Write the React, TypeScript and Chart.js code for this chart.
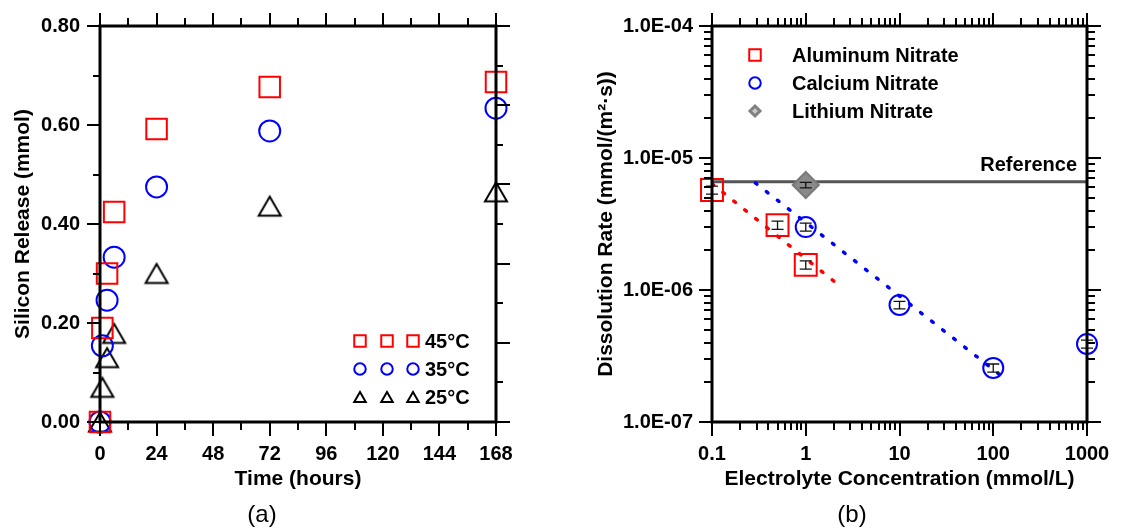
import React, { useEffect, useRef } from 'react';
import { Chart, registerables } from 'chart.js';

Chart.register(...registerables);

const FONT = '"Liberation Sans", Arial, Helvetica, sans-serif';
Chart.defaults.font.family = FONT;
Chart.defaults.color = '#000';

// ---------- Panel (a) data ----------
const timeHours = [0, 1, 3, 6, 24, 72, 168];
const release45C = [0, 0.19, 0.3, 0.424, 0.592, 0.677, 0.687];
const release35C = [0, 0.154, 0.246, 0.333, 0.475, 0.588, 0.634];
const release25C = [0, 0.07, 0.13, 0.179, 0.3, 0.436, 0.465];
const temperatureLabels = ['45°C', '35°C', '25°C'];
const timeMajorTicks = [0, 24, 48, 72, 96, 120, 144, 168];
const timeMinorTicks = [12, 36, 60, 84, 108, 132, 156];
const releaseMajorTicks = [0, 0.2, 0.4, 0.6, 0.8];
const releaseTickLabels = ['0.00', '0.20', '0.40', '0.60', '0.80'];
const releaseMinorTicks = [0.1, 0.3, 0.5, 0.7];
const releaseRightMajorTicks = [0, 0.16, 0.32, 0.48, 0.64, 0.8];
const releaseRightMinorTicks = [0.08, 0.24, 0.4, 0.56, 0.72];

// ---------- Panel (b) data ----------
const concAl = [0.1, 0.5, 1];
const rateAl = [5.73e-6, 3.1e-6, 1.55e-6];
const errAl = [0.4e-6, 0.22e-6, 0.11e-6];
const concCa = [1, 10, 100, 1000];
const rateCa = [3.0e-6, 7.7e-7, 2.57e-7, 3.9e-7];
const errCa = [0.21e-6, 0.05e-6, 0.018e-6, 0.027e-6];
const concLi = [1];
const rateLi = [6.24e-6];
const errLi = [0.3e-6];
const referenceRate = 6.6e-6;
const referenceConc = [0.1, 1000];
const fitAlConc = [0.1, 2.05];
const fitAlRate = [6.4e-6, 1.15e-6];
const fitCaConc = [0.29, 115];
const fitCaRate = [6.47e-6, 2.31e-7];
const saltLabels = ['Aluminum Nitrate', 'Calcium Nitrate', 'Lithium Nitrate'];
const concDecades = [0.1, 1, 10, 100, 1000];
const concTickLabels = ['0.1', '1', '10', '100', '1000'];
const rateDecades = [1e-7, 1e-6, 1e-5, 1e-4];
const rateTickLabels = ['1.0E-07', '1.0E-06', '1.0E-05', '1.0E-04'];
const minorMultipliers = [2, 3, 4, 5, 6, 7, 8, 9];

const concMinorTicks: number[] = [];
concDecades.slice(0, -1).forEach((d) => minorMultipliers.forEach((m) => concMinorTicks.push(d * m)));
const rateMinorTicks: number[] = [];
rateDecades.slice(0, -1).forEach((d) => minorMultipliers.forEach((m) => rateMinorTicks.push(d * m)));

type Shape = 'square' | 'circle' | 'triangle' | 'diamond';

function drawMarker(ctx: CanvasRenderingContext2D, shape: Shape, x: number, y: number, size: number, color: string, lw: number, fill?: string) {
  ctx.save();
  ctx.lineWidth = lw;
  ctx.strokeStyle = color;
  ctx.beginPath();
  const h = size / 2;
  if (shape === 'square') ctx.rect(x - h, y - h, size, size);
  else if (shape === 'circle') ctx.arc(x, y, h, 0, Math.PI * 2);
  else if (shape === 'triangle') {
    const ht = size * 0.86;
    ctx.moveTo(x, y - ht / 2);
    ctx.lineTo(x + h, y + ht / 2);
    ctx.lineTo(x - h, y + ht / 2);
    ctx.closePath();
  } else {
    ctx.moveTo(x, y - h);
    ctx.lineTo(x + h, y);
    ctx.lineTo(x, y + h);
    ctx.lineTo(x - h, y);
    ctx.closePath();
  }
  if (fill) {
    ctx.fillStyle = fill;
    ctx.fill();
  }
  ctx.stroke();
  ctx.restore();
}

function makeTriangleImage(size: number) {
  const c = document.createElement('canvas');
  c.width = size + 6;
  c.height = size + 6;
  const ctx = c.getContext('2d')!;
  drawMarker(ctx, 'triangle', c.width / 2, c.height / 2, size, '#000', 2);
  return c;
}

type TickSpec = { side: 'left' | 'right' | 'top' | 'bottom'; values: number[]; len: number };

function framePlugin(specs: TickSpec[]) {
  return {
    id: 'frameTicks',
    afterDatasetsDraw(chart: any) {
      const { ctx, chartArea: a, scales } = chart;
      ctx.save();
      ctx.strokeStyle = '#000';
      ctx.lineWidth = 2;
      for (const s of specs) {
        for (const v of s.values) {
          ctx.beginPath();
          if (s.side === 'left' || s.side === 'right') {
            const p = Math.round(scales.y.getPixelForValue(v));
            const x0 = s.side === 'left' ? a.left : a.right;
            const dir = s.side === 'left' ? -1 : 1;
            ctx.moveTo(x0, p);
            ctx.lineTo(x0 + dir * s.len, p);
          } else {
            const p = Math.round(scales.x.getPixelForValue(v));
            const y0 = s.side === 'top' ? a.top : a.bottom;
            const dir = s.side === 'top' ? -1 : 1;
            ctx.moveTo(p, y0);
            ctx.lineTo(p, y0 + dir * s.len);
          }
          ctx.stroke();
        }
      }
      ctx.lineWidth = 3;
      ctx.strokeRect(a.left, a.top, a.right - a.left, a.bottom - a.top);
      ctx.restore();
    },
  };
}

const tickFont = { family: FONT, size: 20, weight: 'bold' as const };
const titleFont = { family: FONT, size: 21, weight: 'bold' as const };
const hiddenGrid = (len: number) => ({ display: true, drawOnChartArea: false, drawTicks: true, tickLength: len, color: 'rgba(0,0,0,0)' });

function leftConfig(): any {
  const tri = makeTriangleImage(22);
  const pts = (ys: number[]) => timeHours.map((t, i) => ({ x: t, y: ys[i] }));
  const legendPlugin = {
    id: 'tempLegend',
    afterDraw(chart: any) {
      const { ctx, chartArea: a } = chart;
      const rows: { shape: Shape; color: string }[] = [
        { shape: 'square', color: '#ff0000' },
        { shape: 'circle', color: '#0000ff' },
        { shape: 'triangle', color: '#000000' },
      ];
      rows.forEach((r, i) => {
        const y = a.bottom - 81 + i * 28;
        [-136, -109, -83].forEach((dx) => drawMarker(ctx, r.shape, a.right + dx, y, 11.5, r.color, 2));
        ctx.save();
        ctx.font = `bold 20px ${FONT}`;
        ctx.fillStyle = '#000';
        ctx.textAlign = 'left';
        ctx.textBaseline = 'middle';
        ctx.fillText(temperatureLabels[i], a.right - 71, y + 1);
        ctx.restore();
      });
    },
  };
  return {
    type: 'scatter',
    data: {
      datasets: [
        { label: temperatureLabels[0], data: pts(release45C), pointStyle: 'rect', pointRadius: 14.5, borderColor: '#ff0000', backgroundColor: 'transparent', borderWidth: 2, clip: false },
        { label: temperatureLabels[1], data: pts(release35C), pointStyle: 'circle', pointRadius: 10.5, borderColor: '#0000ff', backgroundColor: 'transparent', borderWidth: 2, clip: false },
        { label: temperatureLabels[2], data: pts(release25C), pointStyle: tri, pointRadius: 12, borderColor: '#000', backgroundColor: 'transparent', borderWidth: 2, clip: false },
      ],
    },
    options: {
      animation: false,
      responsive: false,
      layout: { padding: { top: 26, right: 64, left: 0, bottom: 0 } },
      plugins: { legend: { display: false }, tooltip: { enabled: false } },
      scales: {
        x: {
          type: 'linear',
          position: 'bottom',
          min: 0,
          max: 168,
          afterBuildTicks: (s: any) => { s.ticks = timeMajorTicks.map((v) => ({ value: v })); },
          afterFit: (s: any) => { s.height = 110; },
          grid: hiddenGrid(19),
          border: { display: false },
          ticks: { font: tickFont, color: '#000', padding: 1, maxRotation: 0, autoSkip: false },
          title: { display: true, text: 'Time (hours)', font: titleFont, color: '#000', padding: { top: 0, bottom: 40 } },
        },
        y: {
          type: 'linear',
          position: 'left',
          min: 0,
          max: 0.8,
          afterBuildTicks: (s: any) => { s.ticks = releaseMajorTicks.map((v) => ({ value: v })); },
          afterFit: (s: any) => { s.width = 100; },
          grid: hiddenGrid(19),
          border: { display: false },
          ticks: { font: tickFont, color: '#000', padding: 1, autoSkip: false, callback: (_v: any, i: number) => releaseTickLabels[i] },
          title: { display: true, text: 'Silicon Release (mmol)', font: titleFont, color: '#000', padding: { top: 11, bottom: 0 } },
        },
      },
    },
    plugins: [
      framePlugin([
        { side: 'left', values: releaseMajorTicks, len: 13 },
        { side: 'left', values: releaseMinorTicks, len: 7 },
        { side: 'right', values: releaseRightMajorTicks, len: 14 },
        { side: 'right', values: releaseRightMinorTicks, len: 7 },
        { side: 'bottom', values: timeMajorTicks, len: 14 },
        { side: 'bottom', values: timeMinorTicks, len: 8 },
        { side: 'top', values: timeMajorTicks, len: 13 },
        { side: 'top', values: timeMinorTicks, len: 8 },
      ]),
      legendPlugin,
    ],
  };
}

function rightConfig(): any {
  const pts = (xs: number[], ys: number[]) => xs.map((x, i) => ({ x, y: ys[i] }));
  const errorPlugin = {
    id: 'errorBars',
    afterDatasetsDraw(chart: any) {
      const { ctx } = chart;
      const ys = chart.scales.y;
      ctx.save();
      ctx.strokeStyle = '#111';
      ctx.lineWidth = 1.3;
      chart.data.datasets.forEach((ds: any, di: number) => {
        if (!ds.errors) return;
        const meta = chart.getDatasetMeta(di);
        meta.data.forEach((el: any, i: number) => {
          const v = ds.data[i].y;
          const e = ds.errors[i];
          const y1 = ys.getPixelForValue(v + e);
          const y2 = ys.getPixelForValue(v - e);
          const x = el.x;
          ctx.beginPath();
          ctx.moveTo(x, y1);
          ctx.lineTo(x, y2);
          ctx.moveTo(x - 6, y1);
          ctx.lineTo(x + 6, y1);
          ctx.moveTo(x - 6, y2);
          ctx.lineTo(x + 6, y2);
          ctx.stroke();
        });
      });
      ctx.restore();
    },
  };
  const legendPlugin = {
    id: 'saltLegend',
    afterDraw(chart: any) {
      const { ctx, chartArea: a } = chart;
      const rows: { shape: Shape; color: string; fill?: string; lw: number }[] = [
        { shape: 'square', color: '#ff0000', lw: 2 },
        { shape: 'circle', color: '#0000ff', lw: 2 },
        { shape: 'diamond', color: '#808080', fill: '#c8c8c8', lw: 3 },
      ];
      rows.forEach((r, i) => {
        const y = a.top + 29 + i * 28;
        drawMarker(ctx, r.shape, a.left + 43, y, r.shape === 'diamond' ? 10 : 11.5, r.color, r.lw, r.fill);
        ctx.save();
        ctx.font = `bold 20px ${FONT}`;
        ctx.fillStyle = '#000';
        ctx.textAlign = 'left';
        ctx.textBaseline = 'middle';
        ctx.fillText(saltLabels[i], a.left + 80, y + 1);
        ctx.restore();
      });
      const ry = chart.scales.y.getPixelForValue(referenceRate);
      ctx.save();
      ctx.font = `bold 20px ${FONT}`;
      ctx.fillStyle = '#000';
      ctx.textAlign = 'right';
      ctx.textBaseline = 'middle';
      ctx.fillText('Reference', a.right - 10, ry - 16);
      ctx.restore();
    },
  };
  return {
    type: 'scatter',
    data: {
      datasets: [
        { label: saltLabels[0], data: pts(concAl, rateAl), errors: errAl, pointStyle: 'rect', pointRadius: 15.5, borderColor: '#ff0000', backgroundColor: 'transparent', borderWidth: 2, clip: false, order: 1 },
        { label: saltLabels[1], data: pts(concCa, rateCa), errors: errCa, pointStyle: 'circle', pointRadius: 10, borderColor: '#0000ff', backgroundColor: 'transparent', borderWidth: 2, clip: false, order: 1 },
        { label: saltLabels[2], data: pts(concLi, rateLi), errors: errLi, pointStyle: 'rectRot', pointRadius: 13, borderColor: '#7a7a7a', backgroundColor: '#8a8a8a', borderWidth: 2, clip: false, order: 1 },
        { label: 'fitAl', data: pts(fitAlConc, fitAlRate), showLine: true, pointRadius: 0, borderColor: '#ff0000', borderWidth: 3.5, borderDash: [2, 12], borderCapStyle: 'round', order: 0 },
        { label: 'fitCa', data: pts(fitCaConc, fitCaRate), showLine: true, pointRadius: 0, borderColor: '#0000ff', borderWidth: 3.5, borderDash: [2, 12], borderCapStyle: 'round', order: 0 },
        { label: 'Reference', data: referenceConc.map((x) => ({ x, y: referenceRate })), showLine: true, pointRadius: 0, borderColor: '#555555', borderWidth: 3, order: 2 },
      ],
    },
    options: {
      animation: false,
      responsive: false,
      layout: { padding: { top: 26, right: 55, left: 0, bottom: 0 } },
      plugins: { legend: { display: false }, tooltip: { enabled: false } },
      scales: {
        x: {
          type: 'logarithmic',
          position: 'bottom',
          min: 0.1,
          max: 1000,
          afterBuildTicks: (s: any) => { s.ticks = concDecades.map((v) => ({ value: v })); },
          afterFit: (s: any) => { s.height = 110; },
          grid: hiddenGrid(19),
          border: { display: false },
          ticks: { font: tickFont, color: '#000', padding: 1, maxRotation: 0, autoSkip: false, callback: (_v: any, i: number) => concTickLabels[i] },
          title: { display: true, text: 'Electrolyte Concentration (mmol/L)', font: titleFont, color: '#000', padding: { top: 0, bottom: 40 } },
        },
        y: {
          type: 'logarithmic',
          position: 'left',
          min: 1e-7,
          max: 1e-4,
          afterBuildTicks: (s: any) => { s.ticks = rateDecades.map((v) => ({ value: v })); },
          afterFit: (s: any) => { s.width = 152; },
          grid: hiddenGrid(18),
          border: { display: false },
          ticks: { font: tickFont, color: '#000', padding: 1, autoSkip: false, callback: (_v: any, i: number) => rateTickLabels[i] },
          title: { display: true, text: 'Dissolution Rate (mmol/(m²·s))', font: titleFont, color: '#000', padding: { top: 34, bottom: 0 } },
        },
      },
    },
    plugins: [
      errorPlugin,
      framePlugin([
        { side: 'left', values: rateDecades, len: 13 },
        { side: 'left', values: rateMinorTicks, len: 8 },
        { side: 'right', values: rateDecades, len: 14 },
        { side: 'right', values: rateMinorTicks, len: 8 },
        { side: 'bottom', values: concDecades, len: 14 },
        { side: 'bottom', values: concMinorTicks, len: 8 },
        { side: 'top', values: concDecades, len: 13 },
        { side: 'top', values: concMinorTicks, len: 8 },
      ]),
      legendPlugin,
    ],
  };
}

export default function App() {
  const leftRef = useRef<HTMLCanvasElement>(null);
  const rightRef = useRef<HTMLCanvasElement>(null);
  useEffect(() => {
    const c1 = new Chart(leftRef.current!, leftConfig());
    const c2 = new Chart(rightRef.current!, rightConfig());
    return () => {
      c1.destroy();
      c2.destroy();
    };
  }, []);
  const caption: React.CSSProperties = {
    position: 'absolute',
    top: 502,
    width: 100,
    textAlign: 'center',
    fontFamily: FONT,
    fontSize: 24,
    lineHeight: '24px',
    color: '#000',
  };
  return (
    <div style={{ position: 'absolute', left: 0, top: 0, width: 1142, height: 532, background: '#fff', overflow: 'hidden' }}>
      <canvas ref={leftRef} width={560} height={532} style={{ position: 'absolute', left: 0, top: 0 }} />
      <canvas ref={rightRef} width={582} height={532} style={{ position: 'absolute', left: 560, top: 0 }} />
      <div style={{ ...caption, left: 212 }}>(a)</div>
      <div style={{ ...caption, left: 802 }}>(b)</div>
    </div>
  );
}
